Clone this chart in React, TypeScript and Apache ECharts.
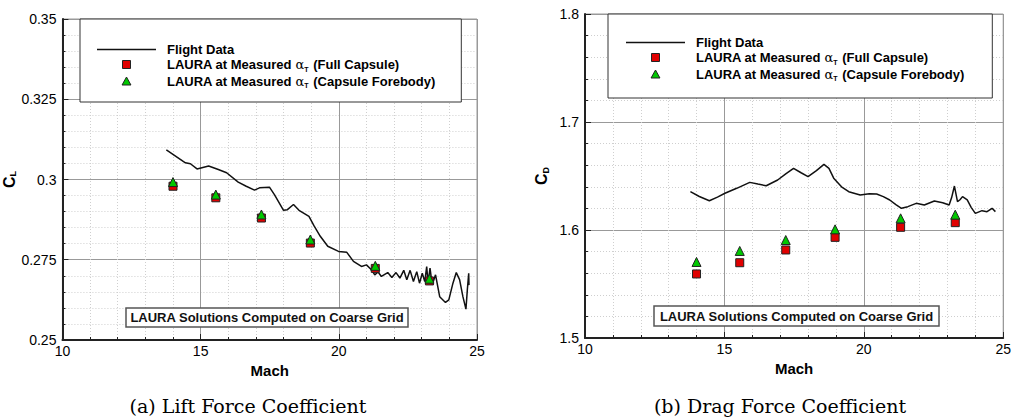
import React, { useEffect, useRef } from "react";
import * as echarts from "echarts";

// ---------- data ----------
const flightMachL = [13.76, 14.45, 14.63, 14.87, 15.29, 15.64, 15.94, 16.36, 16.65, 16.95, 17.13, 17.49, 17.67, 18.0, 18.14, 18.36, 18.56, 18.92, 19.1, 19.33, 19.6, 19.99, 20.29, 20.53, 20.82, 21.0, 21.18, 21.3, 21.42, 21.54, 21.77, 21.92, 22.07, 22.21, 22.35, 22.46, 22.58, 22.7, 22.82, 22.92, 23.02, 23.11, 23.18, 23.23, 23.3, 23.38, 23.5, 23.65, 23.86, 23.98, 24.13, 24.25, 24.37, 24.49, 24.6, 24.65, 24.7, 24.71];
const flightCL = [0.3092, 0.3052, 0.3049, 0.3033, 0.3042, 0.3031, 0.3021, 0.2992, 0.2979, 0.2967, 0.2974, 0.2976, 0.2953, 0.2904, 0.2906, 0.2922, 0.2904, 0.2885, 0.2856, 0.2823, 0.2792, 0.2776, 0.2773, 0.2745, 0.2729, 0.2734, 0.2719, 0.2703, 0.2712, 0.2698, 0.271, 0.2695, 0.271, 0.2693, 0.2717, 0.2688, 0.2717, 0.2682, 0.2713, 0.2677, 0.2708, 0.2682, 0.2729, 0.2677, 0.2724, 0.2672, 0.2703, 0.2635, 0.2617, 0.2625, 0.2677, 0.271, 0.2688, 0.2635, 0.2596, 0.2656, 0.2708, 0.2671];

const flightMachR = [13.78, 14.1, 14.46, 14.75, 15.02, 15.44, 15.91, 16.2, 16.5, 16.91, 17.2, 17.48, 17.75, 18.0, 18.3, 18.57, 18.75, 18.92, 19.2, 19.46, 19.87, 20.2, 20.46, 20.7, 20.93, 21.15, 21.35, 21.58, 21.88, 22.17, 22.53, 22.83, 23.06, 23.15, 23.25, 23.36, 23.45, 23.54, 23.62, 23.71, 23.85, 24.0, 24.24, 24.42, 24.6, 24.72];
const flightCD = [1.6355, 1.631, 1.6271, 1.6305, 1.634, 1.6386, 1.6441, 1.6425, 1.641, 1.6463, 1.652, 1.6571, 1.653, 1.6494, 1.655, 1.6608, 1.657, 1.648, 1.64, 1.6355, 1.6324, 1.6335, 1.6333, 1.6309, 1.6278, 1.6235, 1.6201, 1.6216, 1.6247, 1.6231, 1.6269, 1.6253, 1.6231, 1.63, 1.6407, 1.6262, 1.628, 1.6309, 1.6295, 1.6278, 1.621, 1.6154, 1.6179, 1.617, 1.6201, 1.617];

const lauraMach = [14.0, 15.55, 17.2, 18.97, 21.32, 23.28];
const clFull = [0.2979, 0.2943, 0.288, 0.2802, 0.2723, 0.2684];
const clFore = [0.2992, 0.2953, 0.2891, 0.2813, 0.2731, 0.2691];
const cdFull = [1.5593, 1.5697, 1.5815, 1.5932, 1.6025, 1.6068];
const cdFore = [1.5704, 1.5806, 1.5907, 1.6006, 1.6108, 1.6142];

const NAME_FLIGHT = "Flight Data";
const NAME_FULL = "LAURA at Measured αT (Full Capsule)";
const NAME_FORE = "LAURA at Measured αT (Capsule Forebody)";
const NOTE = "LAURA Solutions Computed on Coarse Grid";
const CAPTION_A = "(a) Lift Force Coefficient";
const CAPTION_B = "(b) Drag Force Coefficient";

const RED = "#e00000";
const GREEN = "#00c800";
const FONT = "Liberation Sans";

const zip = (xs: number[], ys: number[]) => xs.map((x, i) => [x, ys[i]]);

export default function App() {
  const ref = useRef<HTMLDivElement>(null);

  useEffect(() => {
    if (!ref.current) return;
    const chart = echarts.init(ref.current, undefined, { renderer: "svg" });

    const xAxisBase = (gridIndex: number) => ({
      gridIndex,
      type: "value",
      min: 10,
      max: 25,
      interval: 5,
      name: "Mach",
      nameLocation: "middle",
      nameGap: 22,
      nameTextStyle: { fontFamily: FONT, fontWeight: "bold", fontSize: 15, color: "#000" },
      axisLine: { show: true, onZero: false, lineStyle: { color: "#222", width: 2 } },
      axisTick: { show: true, inside: true, length: 6, lineStyle: { color: "#222" } },
      minorTick: { show: true, splitNumber: 5, length: 3, lineStyle: { color: "#222" } },
      axisLabel: { color: "#000", fontFamily: FONT, fontSize: 14, margin: 4 },
      splitLine: { show: true, lineStyle: { color: "#999", width: 1 } },
      minorSplitLine: { show: true, lineStyle: { color: "#cfcfcf", width: 1, type: [1, 2] } },
    });

    const yAxisBase = (gridIndex: number, min: number, max: number, interval: number, sub: string) => ({
      gridIndex,
      type: "value",
      min,
      max,
      interval,
      name: `{c|C}{s|${sub}}`,
      nameLocation: "middle",
      nameRotate: 90,
      nameGap: 35,
      nameTextStyle: {
        color: "#000",
        rich: {
          c: { fontFamily: FONT, fontWeight: "bold", fontSize: 16, color: "#000" },
          s: { fontFamily: FONT, fontWeight: "bold", fontSize: 9, color: "#000", verticalAlign: "bottom", padding: [8, 0, 0, 0] },
        },
      },
      axisLine: { show: true, onZero: false, lineStyle: { color: "#222", width: 2 } },
      axisTick: { show: true, inside: true, length: 6, lineStyle: { color: "#222" } },
      minorTick: { show: true, splitNumber: 5, length: 3, lineStyle: { color: "#222" } },
      axisLabel: { color: "#000", fontFamily: FONT, fontSize: 14, margin: 6 },
      splitLine: { show: true, lineStyle: { color: "#999", width: 1 } },
      minorSplitLine: { show: true, lineStyle: { color: "#cfcfcf", width: 1, type: [1, 2] } },
    });

    const legendRich = {
      b: { fontFamily: FONT, fontWeight: "bold", fontSize: 13, color: "#000", lineHeight: 16 },
      a: { fontFamily: "DejaVu Serif", fontSize: 13, color: "#000", lineHeight: 16 },
      s: { fontFamily: FONT, fontWeight: "bold", fontSize: 7, color: "#000", lineHeight: 16, verticalAlign: "bottom", padding: [6, 1, 0, 0] },
    };
    const legendFormatter = (name: string) => {
      const idx = name.indexOf("αT");
      if (idx < 0) return `{b|${name}}`;
      return `{b|${name.slice(0, idx)}}{a|α}{s|T}{b|${name.slice(idx + 2)}}`;
    };
    const legendData = [
      { name: NAME_FLIGHT, icon: "path://M0,0L59,0L59,1.6L0,1.6Z", itemStyle: { color: "#111", borderWidth: 0 } },
      { name: NAME_FULL, icon: "path://M0,0L10,0L10,10L0,10Z", itemStyle: { color: RED, borderColor: "#222", borderWidth: 1 } },
      { name: NAME_FORE, icon: "path://M5,0L10,9L0,9Z", itemStyle: { color: GREEN, borderColor: "#222", borderWidth: 1 } },
    ];
    const legendBase = (left: number, top: number, padding: number[]) => ({
      left,
      top,
      orient: "vertical",
      padding,
      itemWidth: 59,
      itemHeight: 8,
      itemGap: 2,
      selectedMode: false,
      borderColor: "#333",
      borderWidth: 1,
      backgroundColor: "#fff",
      data: legendData,
      formatter: legendFormatter,
      textStyle: { padding: [0, 0, 0, 6], rich: legendRich },
    });

    const lineSeries = (idx: number, data: number[][]) => ({
      name: NAME_FLIGHT,
      type: "line",
      xAxisIndex: idx,
      yAxisIndex: idx,
      data,
      symbol: "none",
      showSymbol: false,
      lineStyle: { color: "#111", width: 1.5 },
      itemStyle: { color: "#111" },
      z: 3,
    });
    const pointSeries = (idx: number, name: string, data: number[][], symbol: string, color: string, size: number) => ({
      name,
      type: "scatter",
      xAxisIndex: idx,
      yAxisIndex: idx,
      data,
      symbol,
      symbolSize: size,
      itemStyle: { color, borderColor: "#222", borderWidth: 1, opacity: 1 },
      z: 4,
    });

    const noteBox = (x: number, y: number, w: number, h: number) => ({
      type: "group",
      children: [
        { type: "rect", shape: { x, y, width: w, height: h }, style: { fill: "#fff", stroke: "#555", lineWidth: 1.5 }, z: 10 },
        {
          type: "text",
          x: x + w / 2,
          y: y + h / 2,
          z: 11,
          style: { text: NOTE, font: `bold 13px "${FONT}"`, fill: "#111", align: "center", verticalAlign: "middle", textAlign: "center", textVerticalAlign: "middle" },
        },
      ],
    });
    const caption = (x: number, y: number, text: string) => ({
      type: "text",
      x,
      y,
      style: { text, font: `19px "DejaVu Serif"`, fill: "#000", align: "center", verticalAlign: "middle", textAlign: "center", textVerticalAlign: "middle" },
    });

    chart.setOption({
      animation: false,
      backgroundColor: "#fff",
      grid: [
        { left: 57, top: 19, width: 420, height: 321, show: true, borderColor: "#999", borderWidth: 1, backgroundColor: "transparent" },
        { left: 585, top: 14, width: 424, height: 324, show: true, borderColor: "#999", borderWidth: 1, backgroundColor: "transparent" },
      ],
      xAxis: [xAxisBase(0), xAxisBase(1)],
      yAxis: [yAxisBase(0, 0.25, 0.35, 0.025, "L"), yAxisBase(1, 1.5, 1.8, 0.1, "D")],
      legend: [legendBase(80, 19, [24, 26, 13, 17]), legendBase(608, 14, [22, 28, 16, 18])],
      series: [
        lineSeries(0, zip(flightMachL, flightCL)),
        pointSeries(0, NAME_FULL, zip(lauraMach, clFull), "rect", RED, 8),
        pointSeries(0, NAME_FORE, zip(lauraMach, clFore), "triangle", GREEN, 9),
        lineSeries(1, zip(flightMachR, flightCD)),
        pointSeries(1, NAME_FULL, zip(lauraMach, cdFull), "rect", RED, 8),
        pointSeries(1, NAME_FORE, zip(lauraMach, cdFore), "triangle", GREEN, 9),
      ],
      graphic: [
        noteBox(126, 308, 282, 19),
        noteBox(654, 306, 285, 20),
        caption(248, 406, CAPTION_A),
        caption(780, 406, CAPTION_B),
      ],
    });

    return () => chart.dispose();
  }, []);

  return <div ref={ref} style={{ position: "absolute", left: 0, top: 0, width: 1014, height: 418 }} />;
}
